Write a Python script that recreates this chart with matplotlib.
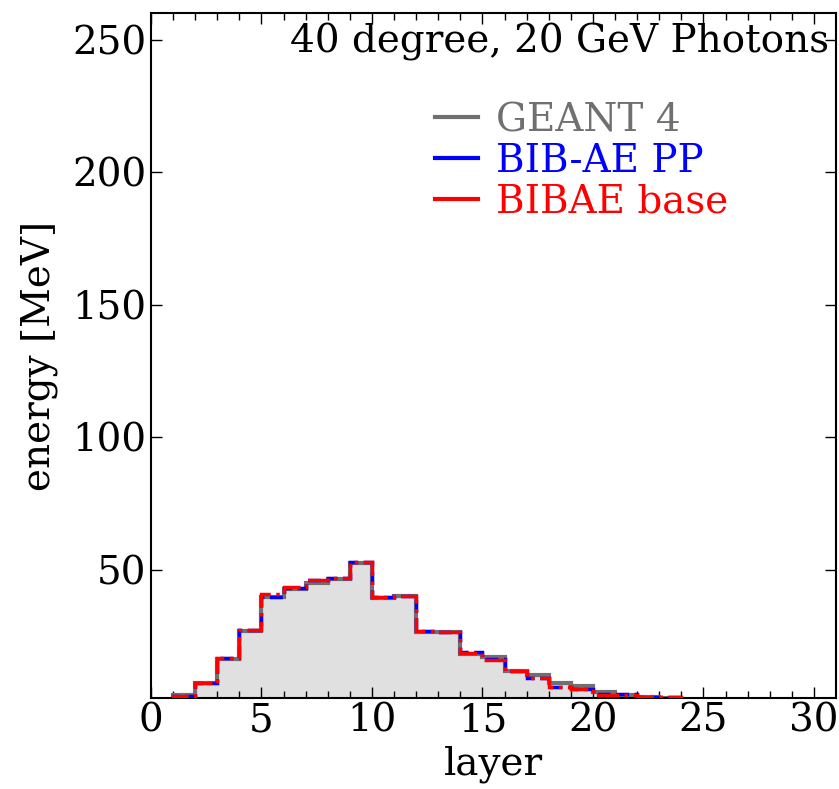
import numpy as np
import matplotlib
matplotlib.use("Agg")
import matplotlib.pyplot as plt
from matplotlib.lines import Line2D

layers = np.arange(1, 31)
geant4 = [2.8, 7.4, 16.6, 27.1, 40.0, 43.0, 45.2, 46.8, 52.6, 39.6, 40.2, 26.8, 26.5,
          18.5, 17.2, 11.8, 10.5, 7.4, 6.4, 3.9, 3.0, 2.0, 1.9, 1.2, 1.0, 0.8, 0.6, 0.5, 0.4, 0.3]
bibae_pp = [2.6, 7.5, 16.8, 27.3, 39.8, 43.3, 46.3, 47.0, 52.9, 39.8, 40.3, 26.9, 26.6,
            19.3, 16.4, 11.9, 9.5, 6.0, 5.3, 3.3, 3.2, 2.1, 2.0, 1.1, 0.9, 0.7, 0.5, 0.4, 0.3, 0.2]
bibae_base = [2.7, 7.6, 16.8, 27.3, 41.0, 43.5, 46.1, 47.0, 52.9, 39.8, 40.3, 26.9, 26.6,
              18.6, 16.2, 11.8, 9.3, 5.9, 5.2, 3.0, 3.0, 2.1, 2.0, 1.1, 0.9, 0.7, 0.5, 0.4, 0.3, 0.2]
edges = np.arange(1, 32)
labels = ['GEANT 4', 'BIB-AE PP', 'BIBAE base']
colors = ['#707070', 'blue', 'red']

plt.rcParams['font.family'] = ['DejaVu Serif']
fs = 28

fig = plt.figure(figsize=(8.39, 7.89), dpi=100)
ax = fig.add_axes([151/839, 1-698/789, (836-151)/839, (698-13)/789])

ax.hist(layers, bins=edges, weights=geant4, histtype='stepfilled', color='#e0e0e0', zorder=1)
ax.hist(layers, bins=edges, weights=geant4, histtype='step', color=colors[0], lw=3, zorder=2)
ax.hist(layers, bins=edges, weights=bibae_pp, histtype='step', color=colors[1], lw=2.5,
        linestyle='--', zorder=3)
ax.hist(layers, bins=edges, weights=bibae_base, histtype='step', color=colors[2], lw=2.5,
        linestyle='-.', zorder=4)

ax.set_xlim(0, 31)
ax.set_ylim(1.8, 260)
ax.set_xticks([0, 5, 10, 15, 20, 25, 30])
ax.set_xticks(np.arange(0, 31, 1), minor=True)
ax.set_yticks([50, 100, 150, 200, 250])
ax.tick_params(which='both', direction='in', top=True, right=True, labelsize=fs)
ax.tick_params(which='major', length=8, width=1)
ax.tick_params(which='minor', length=5, width=1)
for s in ax.spines.values():
    s.set_linewidth(1.5)
ax.set_xlabel('layer', fontsize=fs)
ax.set_ylabel('energy [MeV]', fontsize=fs, labelpad=10)

ax.text(0.99, 0.985, '40 degree, 20 GeV Photons', transform=ax.transAxes,
        ha='right', va='top', fontsize=fs)

handles = [Line2D([], [], color=c, lw=3) for c in colors]
leg = ax.legend(handles, labels, fontsize=fs,
                frameon=False, loc='upper left', bbox_to_anchor=(0.415, 0.87),
                handlelength=1.1, handletextpad=0.45, labelspacing=0.1, borderpad=0,
                borderaxespad=0)
for t, c in zip(leg.get_texts(), colors):
    t.set_color(c)

fig.savefig('out.png', dpi=100)
